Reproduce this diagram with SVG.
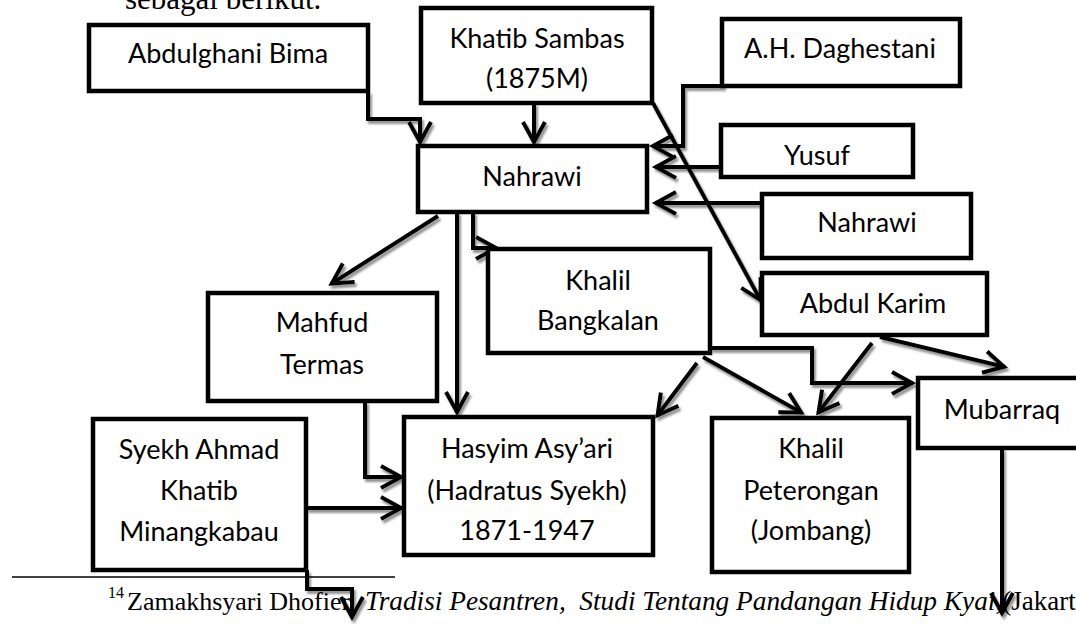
<svg xmlns="http://www.w3.org/2000/svg" width="1076" height="624" viewBox="0 0 1076 624">
  <defs>
    <style>
      .box { fill: #ffffff; stroke: #000000; stroke-width: 4.5; }
      .lbl { font-family: Lato, "Liberation Sans", sans-serif; font-size: 27px; fill: #000000; text-anchor: middle; }
      .wire { fill: none; stroke: #000000; stroke-width: 4; stroke-linejoin: miter; }
      .body { font-family: "Liberation Serif", "DejaVu Serif", serif; fill: #000000; }
    </style>
    <marker id="arrow" viewBox="-26 -16 32 32" markerWidth="32" markerHeight="32" refX="1" refY="0" orient="auto" markerUnits="userSpaceOnUse" overflow="visible">
      <path d="M-20,-11 L0,0 L-20,11" fill="none" stroke="#000000" stroke-width="4" stroke-linejoin="miter"/>
    </marker>
    <filter id="shade" x="-10%" y="-10%" width="130%" height="130%">
      <feDropShadow dx="2" dy="3" stdDeviation="0.8" flood-color="#7f7f7f" flood-opacity="0.85"/>
    </filter>
  </defs>

  <rect x="0" y="0" width="1076" height="624" fill="#ffffff"/>

  <!-- running text of the page -->
  <text class="body" x="125" y="9" font-size="31">sebagai berikut.</text>

  <!-- connectors -->
  <g id="connectors" class="wire" filter="url(#shade)">
    <polyline points="368,91 368,119 420,119 420,143" marker-end="url(#arrow)"/>
    <line x1="534" y1="103" x2="534" y2="143" marker-end="url(#arrow)"/>
    <line x1="653" y1="103" x2="761" y2="301" marker-end="url(#arrow)"/>
    <polyline points="724,86 683,86 683,146 652,146" marker-end="url(#arrow)"/>
    <line x1="721" y1="167" x2="655" y2="167" marker-end="url(#arrow)"/>
    <line x1="762" y1="203" x2="655" y2="203" marker-end="url(#arrow)"/>
    <line x1="438" y1="216" x2="331" y2="284" marker-end="url(#arrow)"/>
    <line x1="457" y1="212" x2="457" y2="413" marker-end="url(#arrow)"/>
    <polyline points="473,212 473,248 497,248" marker-end="url(#arrow)"/>
    <polyline points="365,401 365,477 402,477" marker-end="url(#arrow)"/>
    <line x1="306" y1="508" x2="402" y2="508" marker-end="url(#arrow)"/>
    <polyline points="307,570 307,589 352,589 352,618" marker-end="url(#arrow)"/>
    <line x1="697" y1="363" x2="657" y2="416" marker-end="url(#arrow)"/>
    <line x1="703" y1="357" x2="802" y2="413" marker-end="url(#arrow)"/>
    <polyline points="710,348 812,348 812,383 913,383" marker-end="url(#arrow)"/>
    <line x1="872" y1="343" x2="818" y2="413" marker-end="url(#arrow)"/>
    <line x1="880" y1="337" x2="1005" y2="367" marker-end="url(#arrow)"/>
    <line x1="1002" y1="448" x2="1002" y2="614" marker-end="url(#arrow)"/>
  </g>

  <!-- nodes -->
  <g id="abdulghani-bima">
    <rect class="box" x="89" y="25" width="279" height="66"/>
    <text class="lbl" x="228" y="63">Abdulghani Bima</text>
  </g>
  <g id="khatib-sambas">
    <rect class="box" x="421" y="8" width="231" height="95"/>
    <text class="lbl" x="537" y="48">Khatib Sambas</text>
    <text class="lbl" x="537" y="88">(1875M)</text>
  </g>
  <g id="ah-daghestani">
    <rect class="box" x="722" y="19" width="238" height="67"/>
    <text class="lbl" x="840" y="58">A.H. Daghestani</text>
  </g>
  <g id="nahrawi">
    <rect class="box" x="418" y="146" width="229" height="66"/>
    <text class="lbl" x="532" y="186">Nahrawi</text>
  </g>
  <g id="yusuf">
    <rect class="box" x="721" y="125" width="192" height="52"/>
    <text class="lbl" x="817" y="165">Yusuf</text>
  </g>
  <g id="nahrawi-2">
    <rect class="box" x="762" y="194" width="209" height="64"/>
    <text class="lbl" x="867" y="232">Nahrawi</text>
  </g>
  <g id="khalil-bangkalan">
    <rect class="box" x="488" y="249" width="222" height="104"/>
    <text class="lbl" x="598" y="290">Khalil</text>
    <text class="lbl" x="598" y="330">Bangkalan</text>
  </g>
  <g id="abdul-karim">
    <rect class="box" x="762" y="273" width="225" height="62"/>
    <text class="lbl" x="873" y="313">Abdul Karim</text>
  </g>
  <g id="mahfud-termas">
    <rect class="box" x="208" y="293" width="229" height="108"/>
    <text class="lbl" x="322" y="332">Mahfud</text>
    <text class="lbl" x="322" y="374">Termas</text>
  </g>
  <g id="syekh-ahmad-khatib">
    <rect class="box" x="93" y="419" width="213" height="151"/>
    <text class="lbl" x="199" y="459">Syekh Ahmad</text>
    <text class="lbl" x="199" y="500">Khatib</text>
    <text class="lbl" x="199" y="541">Minangkabau</text>
  </g>
  <g id="hasyim-asyari">
    <rect class="box" x="404" y="417" width="249" height="138"/>
    <text class="lbl" x="527" y="458">Hasyim Asy’ari</text>
    <text class="lbl" x="527" y="500">(Hadratus Syekh)</text>
    <text class="lbl" x="527" y="540">1871-1947</text>
  </g>
  <g id="khalil-peterongan">
    <rect class="box" x="712" y="418" width="197" height="154"/>
    <text class="lbl" x="811" y="458">Khalil</text>
    <text class="lbl" x="811" y="500">Peterongan</text>
    <text class="lbl" x="811" y="540">(Jombang)</text>
  </g>
  <g id="mubarraq">
    <rect class="box" x="918" y="378" width="172" height="70"/>
    <text class="lbl" x="1002" y="419">Mubarraq</text>
  </g>

  <!-- footnote -->
  <line x1="12" y1="577" x2="395" y2="577" stroke="#000000" stroke-width="1.5"/>
  <text class="body" y="610" font-size="26" style="white-space:pre"><tspan x="108" y="598" font-size="16">14</tspan><tspan x="127" y="610">Zamakhsyari Dhofier,</tspan><tspan x="365" font-style="italic" font-size="27.3">Tradisi Pesantren,  Studi Tentang Pandangan Hidup Kyai,</tspan><tspan font-size="27">(Jakarta</tspan></text>
</svg>
